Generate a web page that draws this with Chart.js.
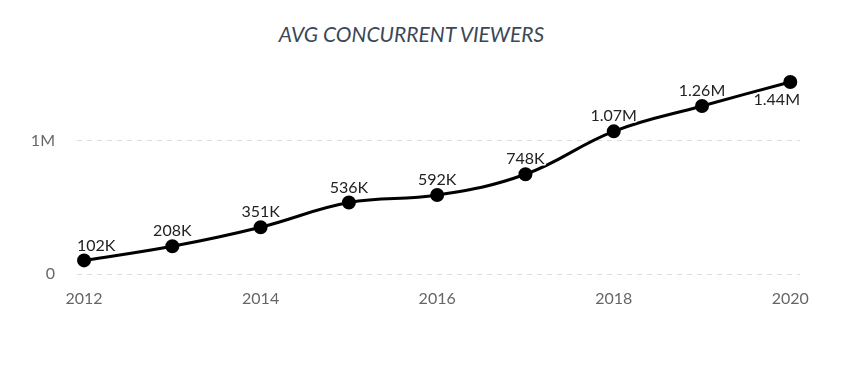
<!DOCTYPE html>
<html lang="en">
<head>
    <meta charset="UTF-8">
    <title>Avg Concurrent Viewers</title>
    <script src="https://cdn.jsdelivr.net/npm/chart.js"></script>
    <style>
        body { margin: 0; background: #fff; }
        #wrap { position: relative; width: 845px; height: 367px; }
        #title {
            position: absolute; left: 0; top: 21px; width: 823px;
            text-align: center; font: italic 21px Lato, sans-serif; color: #3a4757;
        }
        canvas { position: absolute; left: 0; top: 0; }
    </style>
</head>
<body>
<div id="wrap">
    <div id="title">AVG CONCURRENT VIEWERS</div>
    <canvas id="viewersChart" width="845" height="367"></canvas>
</div>
<script>
    // data
    const years = [2012, 2013, 2014, 2015, 2016, 2017, 2018, 2019, 2020];
    const viewers = [102000, 208000, 351000, 536000, 592000, 748000, 1070000, 1260000, 1440000];
    const pointLabels = ['102K', '208K', '351K', '536K', '592K', '748K', '1.07M', '1.26M', '1.44M'];
    const xTicks = [2012, 2014, 2016, 2018, 2020];
    const yTicks = [0, 1000000];
    const yTickLabels = ['0', '1M'];

    // simple value labels with a white halo, kept inside the chart area
    const valueLabels = {
        id: 'valueLabels',
        afterDatasetsDraw(chart) {
            const ctx = chart.ctx;
            const area = chart.chartArea;
            const meta = chart.getDatasetMeta(0);
            ctx.save();
            ctx.font = '16px Lato, sans-serif';
            ctx.textAlign = 'center';
            ctx.textBaseline = 'middle';
            ctx.lineJoin = 'round';
            meta.data.forEach((pt, i) => {
                const text = pointLabels[i];
                const w = ctx.measureText(text).width;
                let x = pt.x;
                if (x - w / 2 < area.left) x = area.left + w / 2;
                if (x + w / 2 > area.right) x = area.right - w / 2;
                const last = i === meta.data.length - 1;
                const y = last ? pt.y + 18 : pt.y - 15;
                ctx.strokeStyle = '#fff';
                ctx.lineWidth = 3;
                ctx.strokeText(text, x, y);
                ctx.fillStyle = '#222';
                ctx.fillText(text, x, y);
            });
            ctx.restore();
        }
    };

    const ctx = document.getElementById('viewersChart').getContext('2d');
    new Chart(ctx, {
        type: 'line',
        data: {
            datasets: [{
                data: years.map((y, i) => ({ x: y, y: viewers[i] })),
                borderColor: '#000',
                backgroundColor: '#000',
                borderWidth: 3,
                pointRadius: 5.5,
                pointHoverRadius: 5.5,
                tension: 0.4,
                fill: false
            }]
        },
        options: {
            responsive: false,
            animation: false,
            layout: { padding: { left: 0, right: 45, top: 74, bottom: 0 } },
            plugins: {
                legend: { display: false },
                tooltip: { enabled: false }
            },
            scales: {
                x: {
                    type: 'linear',
                    min: 2011.92,
                    max: 2020.11,
                    afterBuildTicks: (s) => { s.ticks = xTicks.map(v => ({ value: v })); },
                    afterFit: (s) => { s.height = 93; },
                    grid: { display: false, drawTicks: false },
                    border: { display: false },
                    ticks: {
                        padding: 15,
                        color: '#666',
                        font: { family: 'Lato', size: 16 },
                        callback: (v) => String(v)
                    }
                },
                y: {
                    min: 0,
                    max: 1500000,
                    afterBuildTicks: (s) => { s.ticks = yTicks.map(v => ({ value: v })); },
                    afterFit: (s) => { s.width = 77; },
                    grid: { color: '#ddd', drawTicks: false },
                    border: { display: false, dash: [5, 5] },
                    ticks: {
                        padding: 22,
                        color: '#666',
                        font: { family: 'Lato', size: 16 },
                        callback: (v) => yTickLabels[yTicks.indexOf(v)]
                    }
                }
            }
        },
        plugins: [valueLabels]
    });
</script>
</body>
</html>
